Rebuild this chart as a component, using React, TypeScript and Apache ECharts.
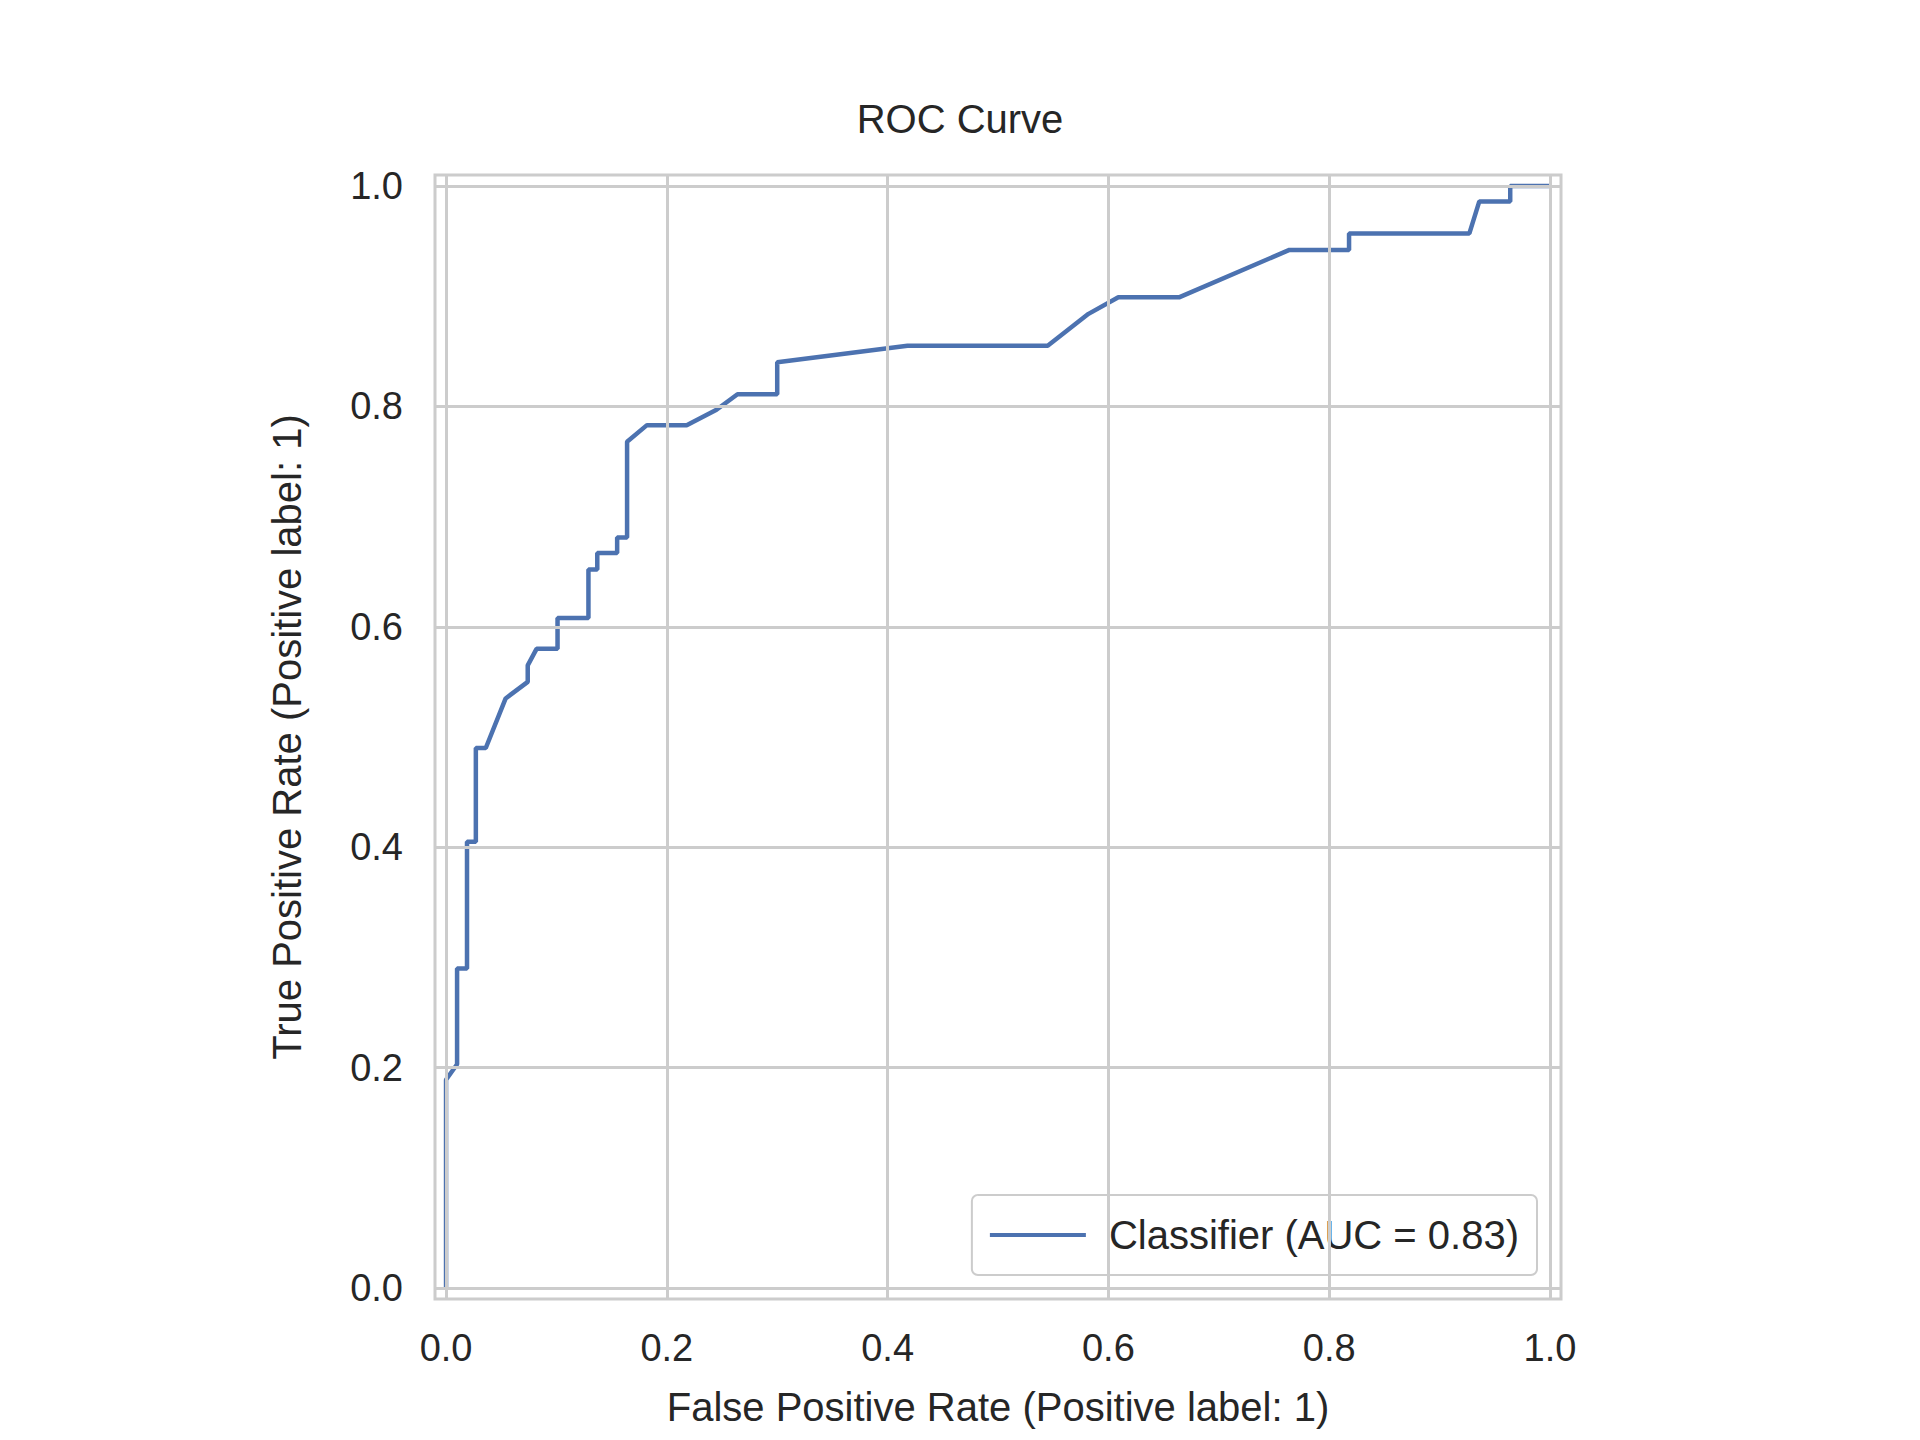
import React, { useEffect, useRef } from "react";
import * as echarts from "echarts";

const fpr = [0,0,0.01,0.01,0.019,0.019,0.027,0.027,0.036,0.054,0.074,0.074,0.082,0.101,0.101,0.129,0.129,0.137,0.137,0.155,0.155,0.164,0.164,0.182,0.218,0.245,0.264,0.3,0.3,0.418,0.545,0.582,0.609,0.664,0.764,0.818,0.818,0.927,0.936,0.964,0.964,1];
const tpr = [0,0.189,0.203,0.29,0.29,0.405,0.405,0.49,0.49,0.535,0.55,0.565,0.58,0.58,0.608,0.608,0.652,0.652,0.667,0.667,0.681,0.681,0.768,0.783,0.783,0.797,0.811,0.811,0.84,0.855,0.855,0.884,0.899,0.899,0.942,0.942,0.957,0.957,0.986,0.986,1,1];
const ticks = [0, 0.2, 0.4, 0.6, 0.8, 1.0];

export default function App() {
  const ref = useRef<HTMLDivElement>(null);
  useEffect(() => {
    const chart = echarts.init(ref.current!, null, { renderer: "svg" });
    const font = "'Liberation Sans', Arial, sans-serif";
    const grid = { lineStyle: { color: "#cccccc", width: 3, type: "solid" } };
    chart.setOption({
      animation: false,
      backgroundColor: "#ffffff",
      title: { text: "ROC Curve", left: "center", top: 86, textStyle: { fontFamily: font, fontSize: 40, fontWeight: "normal", color: "#262626" } },
      grid: { left: 427, right: 351, top: 167, bottom: 132, show: true, borderColor: "#cccccc", borderWidth: 3 },
      legend: {
        right: 375, bottom: 157, orient: "vertical",
        data: ["Classifier (AUC = 0.83)"],
        icon: "rect", itemWidth: 96, itemHeight: 4, itemGap: 10,
        padding: [20, 18, 20, 18],
        borderColor: "#cccccc", borderWidth: 2, borderRadius: 6, backgroundColor: "rgba(255,255,255,0.8)",
        textStyle: { fontFamily: font, fontSize: 40, color: "#262626", padding: [0, 0, 0, 18] },
      },
      xAxis: {
        type: "value", min: -0.01, max: 1.01,
        name: "False Positive Rate (Positive label: 1)", nameLocation: "middle", nameGap: 88,
        nameTextStyle: { fontFamily: font, fontSize: 40, color: "#262626" },
        axisLine: { show: false }, axisTick: { show: false }, splitLine: { show: false },
        axisLabel: { customValues: ticks, margin: 30, fontFamily: font, fontSize: 38, color: "#262626", formatter: (v: number) => v.toFixed(1) },
      },
      yAxis: {
        type: "value", min: -0.01, max: 1.01,
        name: "True Positive Rate (Positive label: 1)", nameLocation: "middle", nameGap: 128,
        nameTextStyle: { fontFamily: font, fontSize: 40, color: "#262626" },
        axisLine: { show: false }, axisTick: { show: false }, splitLine: { show: false },
        axisLabel: { customValues: ticks, margin: 32, fontFamily: font, fontSize: 38, color: "#262626", formatter: (v: number) => v.toFixed(1) },
      },
      series: [
        {
          type: "line", name: "gridlines", silent: true, data: [], z: 1,
          markLine: {
            silent: true, symbol: "none", label: { show: false }, ...grid,
            data: [...ticks.map((t) => ({ xAxis: t })), ...ticks.map((t) => ({ yAxis: t }))],
          },
        },
        {
          type: "line", name: "Classifier (AUC = 0.83)", z: 3,
          data: fpr.map((x, i) => [x, tpr[i]]),
          showSymbol: false, symbol: "none",
          lineStyle: { color: "#4c72b0", width: 4.5 }, itemStyle: { color: "#4c72b0" },
        },
      ],
    });
    return () => chart.dispose();
  }, []);
  return <div ref={ref} style={{ width: 1904, height: 1424 }} />;
}
